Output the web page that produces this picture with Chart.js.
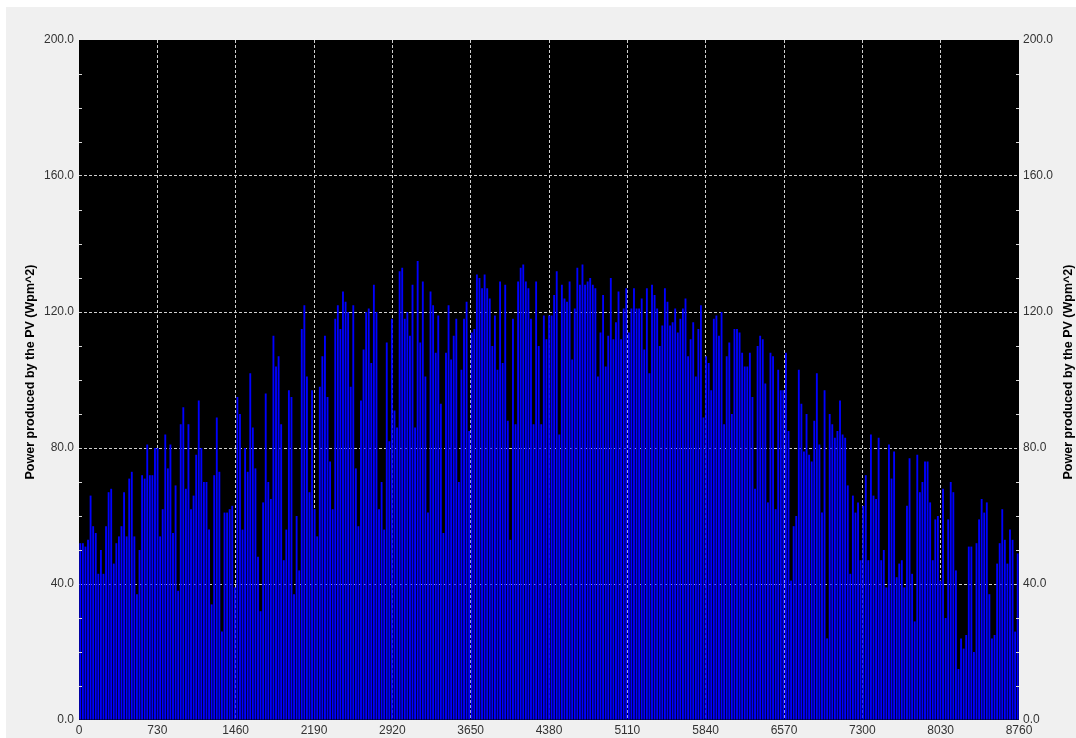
<!DOCTYPE html>
<html>
<head>
  <title>PV power over the year</title>
  <style>
    html, body {
      margin: 0;
      background-color: #ffffff;
      overflow: hidden;
    }
    #pvChart {
      display: block;
      margin: 7px 0 0 6px;
      background-color: #f0f0f0;
    }
  </style>
</head>
<body>
  <canvas id="pvChart" width="1070" height="731"></canvas>

  <script src="https://cdn.jsdelivr.net/npm/chart.js"></script>
  <script>
    // daily peak power (Wpm^2), one value per day
    const peaksQ1 = [
      52, 52, 51, 53, 66, 57, 55, 43, 50, 43,
      57, 67, 68, 46, 52, 54, 57, 67, 54, 71,
      73, 54, 37, 50, 72, 71, 81, 72, 72, 80,
      80, 54, 62, 84, 74, 81, 55, 69, 38, 87,
      92, 68, 87, 62, 66, 78, 94, 80, 70, 70,
      56, 34, 72, 89, 73, 26, 61, 61, 62, 63,
      39, 95, 90, 56, 80, 73, 102, 86, 74, 48,
      32, 64, 96, 70, 65, 113, 104, 107, 87, 47,
      56, 97, 95, 37, 60, 44, 115, 122, 101, 67,
      97
    ];
    const peaksQ2 = [
      62, 54, 98, 107, 113, 95, 76, 62, 118, 122,
      115, 126, 123, 120, 98, 122, 74, 57, 94,
      109, 120, 121, 105, 128, 120, 62, 70, 56, 111,
      82, 118, 91, 86, 132, 133, 118, 120, 113, 128,
      86, 135, 111, 129, 101, 61, 126, 122, 108,
      119, 93, 55, 108, 122, 106, 113, 118, 70, 103,
      118, 123, 85, 114, 115, 131, 130, 127, 131,
      127, 124, 110, 119, 103, 129, 105, 128, 88, 53,
      118, 87, 129, 133, 134, 129, 127, 118, 87, 129,
      110, 87, 119, 112
    ];
    const peaksQ3 = [
      119, 119, 125, 132, 84, 128, 124, 123, 129,
      106, 121, 133, 128, 134, 128, 129, 130, 128,
      127, 101, 114, 125, 104, 113, 130, 112, 117, 126,
      112, 121, 127, 114, 121, 127, 121, 121, 124, 109,
      127, 102, 128, 125, 121, 110, 116, 127, 123, 116,
      117, 121, 114, 118, 121, 124, 107, 112, 117, 101,
      115, 122, 89, 107, 105, 97, 118, 119, 113, 120,
      87, 107, 111, 90, 115, 115, 114, 108, 104, 104,
      108, 95, 68, 110, 113, 112, 99, 64, 108, 107,
      62, 103, 97, 97
    ];
    const peaksQ4 = [
      108, 85, 41, 57, 60, 103, 93, 79, 90,
      78, 76, 88, 102, 81, 61, 97, 24, 90, 87,
      83, 85, 94, 84, 83, 69, 43, 66, 61,
      64, 47, 63, 72, 47, 84, 66, 65, 83, 47,
      50, 39, 81, 71, 79, 42, 46, 47, 39, 63,
      77, 43, 29, 78, 67, 70, 76, 76, 64, 47,
      59, 60, 41, 68, 30, 59, 70, 67, 44,
      15, 24, 21, 25, 51, 51, 20, 52, 59, 65,
      61, 64, 37, 24, 25, 46, 52, 62, 53, 46,
      56, 53, 26, 49
    ];

    const xTicks = [0, 730, 1460, 2190, 2920, 3650, 4380, 5110, 5840, 6570, 7300, 8030, 8760];
    const yTicks = [0, 40, 80, 120, 160, 200];
    const yTitle = 'Power produced by the PV (Wpm^2)';

    const peaks = [...peaksQ1, ...peaksQ2, ...peaksQ3, ...peaksQ4];
    // bar sits at noon of each day (hour of year)
    const points = peaks.map((p, day) => ({ x: day * 24 + 12, y: p }));

    const gridColor = (ctx, edges) => edges.includes(ctx.tick.value) ? 'rgba(0,0,0,0)' : '#cfcfcf';

    const framePlugin = {
      id: 'frame',
      beforeDraw(chart) {
        const { ctx, chartArea } = chart;
        ctx.save();
        ctx.fillStyle = '#000000';
        ctx.fillRect(chartArea.left, chartArea.top, chartArea.right - chartArea.left, chartArea.bottom - chartArea.top);
        ctx.restore();
      },
      afterDraw(chart) {
        const { ctx, chartArea } = chart;
        const y = chart.scales.y;
        ctx.save();
        // small inner ticks every 10 units on both sides
        ctx.strokeStyle = '#d8d8d8';
        ctx.lineWidth = 1;
        for (let v = y.min; v <= y.max; v += 10) {
          if (v % 40 === 0) continue;
          const py = Math.round(y.getPixelForValue(v)) + 0.5;
          ctx.beginPath();
          ctx.moveTo(chartArea.left, py);
          ctx.lineTo(chartArea.left + 3, py);
          ctx.moveTo(chartArea.right - 3, py);
          ctx.lineTo(chartArea.right, py);
          ctx.stroke();
        }
        // axis titles, both reading bottom to top
        ctx.fillStyle = '#000000';
        ctx.font = 'bold 12.5px "Liberation Sans", Arial, sans-serif';
        ctx.textAlign = 'center';
        ctx.textBaseline = 'middle';
        const cy = (chartArea.top + chartArea.bottom) / 2 - 8;
        [chartArea.left - 48, chartArea.right + 50].forEach(cx => {
          ctx.save();
          ctx.translate(cx, cy);
          ctx.rotate(-Math.PI / 2);
          ctx.fillText(yTitle, 0, 0);
          ctx.restore();
        });
        ctx.restore();
      }
    };

    const tickFont = { family: '"Liberation Sans", Arial, sans-serif', size: 12 };

    new Chart(document.getElementById('pvChart').getContext('2d'), {
      type: 'bar',
      data: {
        datasets: [{
          label: yTitle,
          data: points,
          backgroundColor: '#0000ff',
          borderWidth: 0,
          barPercentage: 0.72,
          categoryPercentage: 1,
          yAxisID: 'y'
        }]
      },
      options: {
        responsive: false,
        devicePixelRatio: 1,
        animation: false,
        layout: { padding: { top: 33, left: 0, right: 0, bottom: 0 } },
        plugins: {
          legend: { display: false },
          tooltip: { enabled: false }
        },
        scales: {
          x: {
            type: 'linear',
            offset: false,
            min: xTicks[0],
            max: xTicks[xTicks.length - 1],
            afterBuildTicks: s => { s.ticks = xTicks.map(v => ({ value: v })); },
            afterFit: s => { s.height = 18; },
            border: { display: false, dash: [3, 2] },
            grid: {
              offset: false,
              drawTicks: false,
              color: ctx => gridColor(ctx, [xTicks[0], xTicks[xTicks.length - 1]])
            },
            ticks: {
              color: '#333333',
              font: tickFont,
              padding: 3,
              maxRotation: 0,
              autoSkip: false,
              callback: v => String(v)
            }
          },
          y: {
            position: 'left',
            min: yTicks[0],
            max: yTicks[yTicks.length - 1],
            afterBuildTicks: s => { s.ticks = yTicks.map(v => ({ value: v })); },
            afterFit: s => { s.width = 73; },
            border: { display: false, dash: [3, 2] },
            grid: {
              drawTicks: false,
              color: ctx => gridColor(ctx, [yTicks[0], yTicks[yTicks.length - 1]])
            },
            ticks: {
              color: '#333333',
              font: tickFont,
              padding: 5,
              callback: v => v.toFixed(1)
            }
          },
          y2: {
            position: 'right',
            min: yTicks[0],
            max: yTicks[yTicks.length - 1],
            afterBuildTicks: s => { s.ticks = yTicks.map(v => ({ value: v })); },
            afterFit: s => { s.width = 57; },
            border: { display: false },
            grid: { display: false, drawTicks: false },
            ticks: {
              color: '#333333',
              font: tickFont,
              padding: 4,
              callback: v => v.toFixed(1)
            }
          }
        }
      },
      plugins: [framePlugin]
    });
  </script>
</body>
</html>
